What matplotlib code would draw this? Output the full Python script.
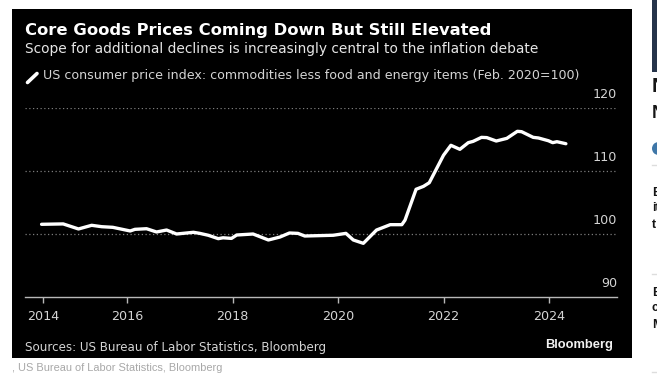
import matplotlib
matplotlib.use("Agg")
import matplotlib.pyplot as plt
from matplotlib.patches import Rectangle, Ellipse
from matplotlib.lines import Line2D

W, H = 657, 382

years = [2014.38, 2014.79, 2015.08, 2015.33, 2015.52, 2015.73, 2016.06, 2016.15, 2016.37, 2016.56,
         2016.75, 2016.94, 2017.26, 2017.38, 2017.54, 2017.73, 2017.82, 2017.98, 2018.08, 2018.39,
         2018.68, 2018.90, 2019.08, 2019.24, 2019.37, 2019.91, 2020.15, 2020.29, 2020.48, 2020.73,
         2020.99, 2021.21, 2021.27, 2021.48, 2021.62, 2021.73, 2022.00, 2022.14, 2022.31, 2022.47,
         2022.56, 2022.72, 2022.82, 2023.00, 2023.20, 2023.40, 2023.48, 2023.70, 2023.80, 2023.99,
         2024.07, 2024.15, 2024.32]
cpi = [101.54, 101.60, 100.80, 101.38, 101.16, 101.06, 100.48, 100.74, 100.84, 100.32,
       100.63, 100.00, 100.27, 100.10, 99.80, 99.26, 99.40, 99.30, 99.84, 100.00,
       99.05, 99.52, 100.16, 100.10, 99.68, 99.80, 100.10, 99.05, 98.52, 100.63,
       101.48, 101.48, 102.20, 107.10, 107.56, 108.14, 112.50, 114.08, 113.44, 114.50,
       114.70, 115.34, 115.30, 114.76, 115.18, 116.30, 116.24, 115.34, 115.24, 114.80,
       114.50, 114.65, 114.33]

xtick_pos = [2014.41, 2016, 2018, 2020, 2022, 2024]
xtick_labels = ["2014", "2016", "2018", "2020", "2022", "2024"]
ygrid = [100, 110, 120]
ylabels = [90, 100, 110, 120]

title = "Core Goods Prices Coming Down But Still Elevated"
subtitle = "Scope for additional declines is increasingly central to the inflation debate"
legend = "US consumer price index: commodities less food and energy items (Feb. 2020=100)"
source = "Sources: US Bureau of Labor Statistics, Bloomberg"
caption = ", US Bureau of Labor Statistics, Bloomberg"

def fx(px): return px / W
def fy(py): return 1 - py / H

fig = plt.figure(figsize=(W / 100, H / 100), dpi=100, facecolor="white")

# black panel and the clipped page bits around it
fig.add_artist(Rectangle((fx(12), fy(358)), 620 / W, 349 / H, transform=fig.transFigure, fc="black", ec="none", zorder=-1))
fig.add_artist(Rectangle((fx(652), fy(72)), 5 / W, 72 / H, transform=fig.transFigure, fc="#26344a", ec="none", zorder=-1))

ax = fig.add_axes([fx(25), fy(297), 592 / W, 189 / H])
ax.set_facecolor("none")
ax.set_xlim(2014.066, 2025.289)
ax.set_ylim(90, 120)

for v in ygrid:
    ax.axhline(v, color="#7c7c7c", lw=0.9, ls=(0, (1, 2)), zorder=1)
ax.plot(years, cpi, color="white", lw=2.4, solid_joinstyle="round", solid_capstyle="round", zorder=3)

for s in ["top", "left", "right"]:
    ax.spines[s].set_visible(False)
ax.spines["bottom"].set_color("#b8b8b8")
ax.spines["bottom"].set_linewidth(1.0)
ax.set_yticks([])
ax.set_xticks(xtick_pos)
ax.set_xticklabels(xtick_labels)
ax.tick_params(axis="x", direction="out", length=4, width=1, color="#b8b8b8", labelcolor="#d4d4d4", labelsize=9.2, pad=5)

for v in ylabels:
    ax.annotate(str(v), (1, v), xycoords=("axes fraction", "data"), xytext=(0, 5), textcoords="offset points",
                ha="right", va="bottom", color="#d4d4d4", fontsize=9.2)

fig.text(fx(25), fy(30), title, color="white", fontsize=11.75, fontweight="bold", va="center")
fig.text(fx(25), fy(49), subtitle, color="#e6e6e6", fontsize=9.94, va="center")
fig.add_artist(Line2D([fx(27.5), fx(37)], [fy(82.5), fy(73.5)], color="white", lw=2.6, solid_capstyle="round"))
fig.text(fx(43), fy(76), legend, color="#d4d4d4", fontsize=9.1, va="center")
fig.text(fx(25), fy(347), source, color="#d4d4d4", fontsize=8.55, va="center")
fig.text(fx(613), fy(345), "Bloomberg", color="#f2f2f2", fontsize=9.3, fontweight="bold",
         family="Liberation Sans", ha="right", va="center")
fig.text(fx(12), fy(368), caption, color="#a8a8a8", fontsize=7.9, family="Liberation Sans", va="center")

# cut off sidebar text at the right edge
for py, s, size in [(86, "N", 15), (113, "N", 13), (193, "B", 9), (208, "it", 9), (225, "t", 9),
                    (293, "B", 9), (308, "c", 9), (325, "M", 9)]:
    fig.text(fx(652), fy(py), s, color="#151515", fontsize=size, fontweight="bold", family="Liberation Sans", va="center")
fig.add_artist(Ellipse((fx(658.5), fy(148.5)), 13 / W, 13 / H, transform=fig.transFigure, fc="#3f77a8", ec="none"))
for py in [165, 274, 372]:
    fig.add_artist(Line2D([fx(652), fx(657)], [fy(py), fy(py)], color="#dddddd", lw=1))

fig.savefig("out.png", dpi=100)
